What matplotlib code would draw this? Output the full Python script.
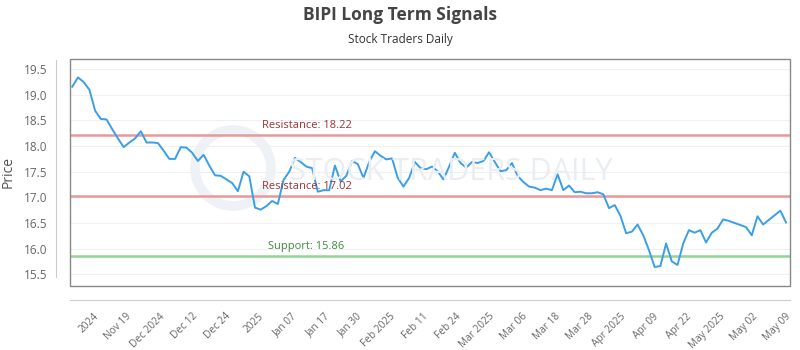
import numpy as np
import matplotlib
matplotlib.use("Agg")
import matplotlib.pyplot as plt
from matplotlib.patches import Rectangle, Circle
from matplotlib.transforms import blended_transform_factory

# daily closes (Nov 2024 -> May 2025)
prices = [19.16, 19.34, 19.25, 19.10, 18.69, 18.53, 18.52, 18.33, 18.15, 17.98,
          18.07, 18.15, 18.29, 18.07, 18.07, 18.06, 17.91, 17.75, 17.75, 17.98,
          17.97, 17.87, 17.71, 17.83, 17.62, 17.43, 17.42, 17.35, 17.28, 17.12,
          17.50, 17.41, 16.80, 16.76, 16.83, 16.93, 16.87, 17.34, 17.50, 17.77,
          17.69, 17.60, 17.57, 17.11, 17.14, 17.14, 17.62, 17.31, 17.42, 17.71,
          17.65, 17.38, 17.69, 17.90, 17.81, 17.74, 17.76, 17.38, 17.21, 17.38,
          17.69, 17.57, 17.55, 17.60, 17.51, 17.35, 17.60, 17.87, 17.67, 17.58,
          17.69, 17.67, 17.71, 17.88, 17.69, 17.51, 17.53, 17.67, 17.42, 17.30,
          17.21, 17.19, 17.14, 17.17, 17.14, 17.45, 17.14, 17.23, 17.10, 17.11,
          17.08, 17.08, 17.10, 17.06, 16.79, 16.85, 16.64, 16.30, 16.33, 16.47,
          16.26, 15.97, 15.64, 15.66, 16.10, 15.75, 15.68, 16.10, 16.36, 16.31,
          16.36, 16.12, 16.31, 16.39, 16.57, 16.54, 16.50, 16.46, 16.42, 16.26,
          16.63, 16.47, 16.56, 16.65, 16.74, 16.51]

tick_labels = ["2024", "Nov 19", "Dec 2024", "Dec 12", "Dec 24", "2025", "Jan 07",
               "Jan 17", "Jan 30", "Feb 2025", "Feb 11", "Feb 24", "Mar 2025",
               "Mar 06", "Mar 18", "Mar 28", "Apr 2025", "Apr 09", "Apr 22",
               "May 2025", "May 02", "May 09"]

resistance = [18.22, 17.02]
support = [15.86]

x = np.arange(len(prices))

fig = plt.figure(figsize=(8, 3.5), dpi=100)
ax = fig.add_axes([70/800, 1-286/350, 720/800, 227/350])

# spines first: moving them resets the tick objects
for sp in ["top", "right"]:
    ax.spines[sp].set_visible(False)
ax.spines["left"].set_position(("outward", 10))
ax.spines["bottom"].set_position(("outward", 10))
ax.spines["left"].set_color("#cccccc")
ax.spines["bottom"].set_color("#cccccc")

# faint watermark
ax.add_patch(Circle((233, 350-168), 38, transform=None, fill=False,
                    ec="#eef2f6", lw=7, zorder=0))
fig.text(451/800, 1-172/350, "STOCK TRADERS DAILY", ha="center", va="center",
         fontsize=22, color="#eaeef2", family="Open Sans", zorder=0)

ax.plot(x, prices, color="#3a9fe6", lw=1.4, zorder=3)

for r in resistance:
    ax.axhline(r, color="#e89a9a", lw=1.8, zorder=2)
for s in support:
    ax.axhline(s, color="#94d494", lw=1.8, zorder=2)

trans = blended_transform_factory(ax.transAxes, ax.transData)
for r in resistance:
    ax.annotate("Resistance: %.2f" % r, (0.3285, r), xycoords=trans,
                xytext=(0, 3), textcoords="offset points", ha="center", va="bottom",
                fontsize=8, color="#9a3434", family="Open Sans", zorder=5)
for s in support:
    ax.annotate("Support: %.2f" % s, (0.3285, s), xycoords=trans,
                xytext=(0, 3), textcoords="offset points", ha="center", va="bottom",
                fontsize=8, color="#3f8a3f", family="Open Sans", zorder=5)

ax.set_xlim(-0.4, 125.7)
ax.set_ylim(15.27, 19.70)
ax.spines["left"].set_bounds(15.45, 19.68)
yt = np.arange(15.5, 19.51, 0.5)
ax.set_yticks(yt)
ax.set_yticklabels(["%.1f" % v for v in yt])
ax.grid(axis="y", color="#f0f0f0", lw=0.8)
ax.set_axisbelow(True)

tick_pos = np.linspace(3.6, 124.9, len(tick_labels))
ax.set_xticks(tick_pos)
ax.set_xticklabels(tick_labels, rotation=45, ha="right", va="top",
                   rotation_mode="anchor")

ax.add_patch(Rectangle((0, 0), 1, 1, transform=ax.transAxes, fill=False,
                       ec="#888888", lw=1, clip_on=False, zorder=4))

ax.tick_params(axis="x", length=0, pad=8, labelsize=7.3, labelcolor="#666666")
ax.tick_params(axis="y", length=0, pad=6, labelsize=8.5, labelcolor="#666666")
for lab in ax.get_xticklabels() + ax.get_yticklabels():
    lab.set_family("Open Sans")

ax.set_ylabel("Price", fontsize=10, color="#555555", family="Open Sans", labelpad=6)

fig.text(0.5, 1-15/350, "BIPI Long Term Signals", ha="center", va="center",
         fontsize=12.5, fontweight="bold", color="#444444", family="Open Sans")
fig.text(0.5, 1-40/350, "Stock Traders Daily", ha="center", va="center",
         fontsize=8.5, color="#333333", family="Open Sans")

fig.savefig("out.png", dpi=100)
